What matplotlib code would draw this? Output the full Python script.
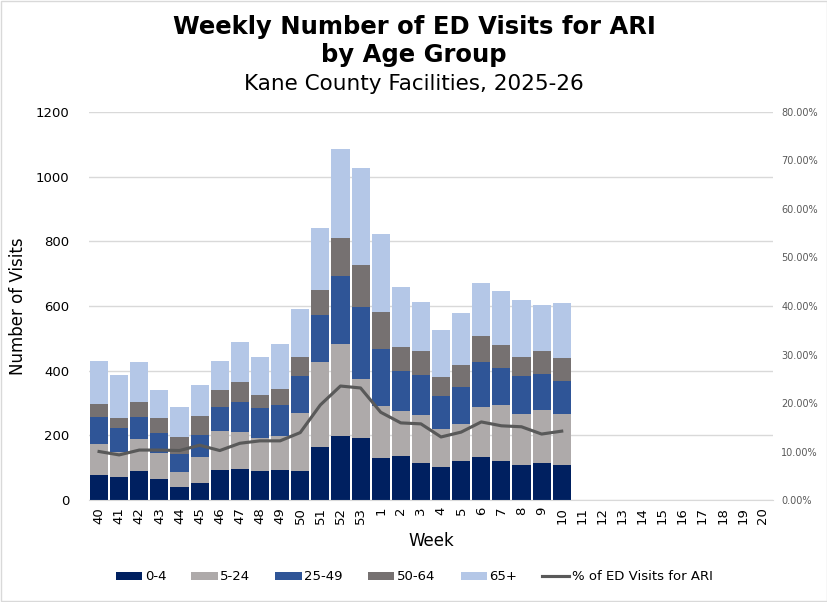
import numpy as np
import matplotlib.pyplot as plt
from matplotlib.patches import Rectangle
from matplotlib.ticker import FuncFormatter

weeks = [str(w) for w in range(40, 54)] + [str(w) for w in range(1, 21)]

# visits by age group (weeks 40..10 reported, rest empty)
age_0_4 = [77, 71, 89, 65, 40, 53, 93, 96, 89, 93, 89, 164, 198, 192,
           130, 136, 115, 102, 121, 133, 121, 108, 115, 108]
age_5_24 = [96, 79, 100, 80, 47, 80, 120, 114, 102, 105, 180, 263, 285, 182,
            161, 139, 148, 118, 114, 155, 173, 158, 163, 158]
age_25_49 = [84, 73, 68, 62, 55, 68, 75, 93, 93, 96, 115, 145, 210, 223,
             176, 124, 124, 102, 115, 139, 114, 118, 112, 102]
age_50_64 = [40, 31, 46, 47, 53, 59, 52, 62, 40, 49, 58, 77, 117, 130,
             114, 74, 74, 58, 68, 80, 71, 58, 71, 71]
age_65 = [133, 133, 124, 86, 93, 96, 90, 124, 118, 139, 149, 192, 276, 300,
          242, 186, 151, 146, 160, 164, 167, 176, 142, 170]
pct_ari = [10.0, 9.3, 10.3, 10.3, 10.2, 11.3, 10.2, 11.7, 12.2, 12.2, 13.9, 19.6, 23.5, 23.1,
           18.1, 15.9, 15.7, 13.0, 14.0, 16.1, 15.3, 15.1, 13.6, 14.2]

series = [("0-4", age_0_4, "#002060"),
          ("5-24", age_5_24, "#AEAAAA"),
          ("25-49", age_25_49, "#2F5597"),
          ("50-64", age_50_64, "#767171"),
          ("65+", age_65, "#B4C7E7")]

fig = plt.figure(figsize=(8.28, 6.02), dpi=100)
ax = fig.add_axes([0.1075, 0.1694, 0.826, 0.6446])

x = np.arange(len(weeks))
xd = np.arange(len(age_0_4))
bottom = np.zeros(len(age_0_4))
handles = []
for name, vals, col in series:
    b = ax.bar(xd, vals, 0.9, bottom=bottom, color=col, label=name, zorder=2)
    bottom += np.array(vals)
    handles.append(b)

ax.set_xlim(-0.5, len(weeks) - 0.5)
ax.set_ylim(0, 1200)
ax.set_yticks(range(0, 1201, 200))
ax.set_xticks(x)
ax.set_xticklabels(weeks, rotation=90, fontsize=9.5)
ax.tick_params(axis="y", labelsize=9.5, length=0, pad=14)
ax.tick_params(axis="x", length=0, pad=5)
ax.grid(axis="y", color="#D9D9D9", linewidth=1, zorder=0)
for s in ax.spines.values():
    s.set_visible(False)
ax.spines["bottom"].set_visible(True)
ax.spines["bottom"].set_color("#D9D9D9")
ax.set_ylabel("Number of Visits", fontsize=12, labelpad=6)
ax.set_xlabel("Week", fontsize=12, labelpad=6)

ax2 = ax.twinx()
ln, = ax2.plot(xd, pct_ari, color="#595959", linewidth=2.25, label="% of ED Visits for ARI", zorder=3)
ax2.set_ylim(0, 80)
ax2.set_yticks(range(0, 81, 10))
ax2.yaxis.set_major_formatter(FuncFormatter(lambda v, p: f"{v:.2f}%"))
ax2.tick_params(axis="y", labelsize=7, length=0, labelcolor="#595959", pad=6)
for s in ax2.spines.values():
    s.set_visible(False)

fig.legend(handles + [ln], [h.get_label() for h in handles] + [ln.get_label()],
           loc="center", bbox_to_anchor=(0.5, 0.042), ncol=6, frameon=False,
           fontsize=9.5, handlelength=2.0, handleheight=0.55, handletextpad=0.2,
           columnspacing=1.9)

fig.text(0.5, 0.955, "Weekly Number of ED Visits for ARI", ha="center", va="center",
         fontsize=17.5, fontweight="bold")
fig.text(0.5, 0.908, "by Age Group", ha="center", va="center",
         fontsize=17.5, fontweight="bold")
fig.text(0.5, 0.861, "Kane County Facilities, 2025-26", ha="center", va="center",
         fontsize=15.5)

fig.patches.append(Rectangle((0.001, 0.001), 0.998, 0.998, transform=fig.transFigure,
                             fill=False, edgecolor="#D9D9D9", linewidth=1))

fig.savefig("out.png", dpi=100)
